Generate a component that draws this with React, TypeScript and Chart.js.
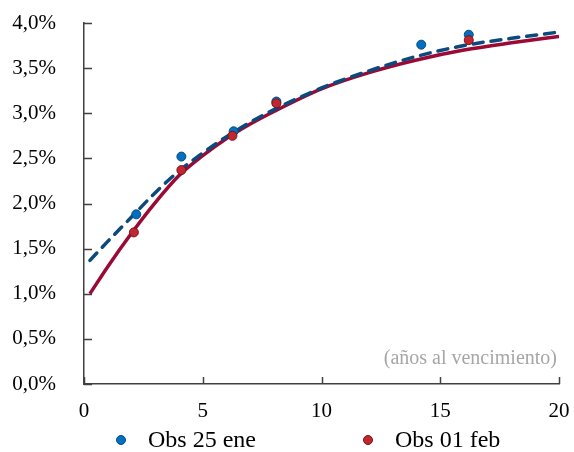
import React, { useEffect, useRef } from "react";
import { Chart, registerables } from "chart.js";

Chart.register(...registerables);

// Fitted curves (maturity in years, yield in %)
const curveX = [0.25, 1, 2, 3, 4, 5, 6, 7, 8, 10, 12, 14, 16, 18, 20];
const curve25ene = [1.37, 1.58, 1.85, 2.12, 2.36, 2.56, 2.74, 2.9, 3.04, 3.28, 3.47, 3.63, 3.75, 3.83, 3.9];
const curve01feb = [1.0, 1.3, 1.67, 2.01, 2.31, 2.53, 2.72, 2.88, 3.02, 3.27, 3.45, 3.59, 3.7, 3.78, 3.85];

// Observations
const obsX25ene = [2.2, 4.1, 6.3, 8.1, 14.2, 16.2];
const obs25ene = [1.88, 2.52, 2.8, 3.13, 3.76, 3.87];
const obsX01feb = [2.1, 4.1, 6.25, 8.1, 16.2];
const obs01feb = [1.68, 2.37, 2.75, 3.11, 3.81];

// Axes
const xTickValues = [0, 5, 10, 15, 20];
const xTickLabels = ["0", "5", "10", "15", "20"];
const yTickValues = [0, 0.5, 1, 1.5, 2, 2.5, 3, 3.5, 4];
const yTickLabels = ["0,0%", "0,5%", "1,0%", "1,5%", "2,0%", "2,5%", "3,0%", "3,5%", "4,0%"];

const legendLabels = ["Obs 25 ene", "Obs 01 feb"];
const axisNote = "(años al vencimiento)";

const BLUE_LINE = "#0B4A7D";
const RED_LINE = "#9A0A35";
const BLUE_DOT = "#0070C0";
const RED_DOT = "#C0282D";
const AXIS = "#404040";
const FONT = "'Liberation Serif', 'Times New Roman', serif";

const toPts = (xs: number[], ys: number[]) => xs.map((x, i) => ({ x, y: ys[i] }));

export default function App() {
  const ref = useRef<HTMLCanvasElement | null>(null);

  useEffect(() => {
    if (!ref.current) return;

    const extras = {
      id: "extras",
      afterDraw(chart: any) {
        const { ctx, chartArea, scales } = chart;
        ctx.save();
        // inward tick marks
        ctx.strokeStyle = AXIS;
        ctx.lineWidth = 1.5;
        ctx.beginPath();
        yTickValues.forEach((v) => {
          const py = Math.round(scales.y.getPixelForValue(v)) + 0.5;
          ctx.moveTo(chartArea.left, py);
          ctx.lineTo(chartArea.left + 8, py);
        });
        xTickValues.forEach((v) => {
          const px = Math.round(scales.x.getPixelForValue(v)) + 0.5;
          ctx.moveTo(px, chartArea.bottom);
          ctx.lineTo(px, chartArea.bottom - 7);
        });
        ctx.stroke();

        // axis note
        ctx.fillStyle = "#A6A6A6";
        ctx.font = `20px ${FONT}`;
        ctx.textAlign = "right";
        ctx.textBaseline = "middle";
        ctx.fillText(axisNote, chartArea.right - 2, 359);

        // legend
        ctx.font = `24px ${FONT}`;
        ctx.textAlign = "left";
        const items = [
          { label: legendLabels[0], fill: BLUE_DOT, stroke: "#0B4A7D", cx: 121 },
          { label: legendLabels[1], fill: RED_DOT, stroke: "#7A1020", cx: 368 },
        ];
        items.forEach((it) => {
          ctx.beginPath();
          ctx.arc(it.cx, 440, 4.5, 0, Math.PI * 2);
          ctx.fillStyle = it.fill;
          ctx.fill();
          ctx.lineWidth = 1;
          ctx.strokeStyle = it.stroke;
          ctx.stroke();
          ctx.fillStyle = "#000";
          ctx.fillText(it.label, it.cx + 27, 441);
        });
        ctx.restore();
      },
    };

    const chart = new Chart(ref.current, {
      type: "scatter",
      data: {
        datasets: [
          {
            label: legendLabels[1],
            data: toPts(obsX01feb, obs01feb),
            backgroundColor: RED_DOT,
            borderColor: "#7A1020",
            borderWidth: 1,
            pointRadius: 4.5,
            showLine: false,
          },
          {
            label: legendLabels[0],
            data: toPts(obsX25ene, obs25ene),
            backgroundColor: BLUE_DOT,
            borderColor: "#0B4A7D",
            borderWidth: 1,
            pointRadius: 4.5,
            showLine: false,
          },
          {
            label: "Curva 25 ene",
            data: toPts(curveX, curve25ene),
            showLine: true,
            borderColor: BLUE_LINE,
            borderWidth: 3.5,
            borderDash: [10, 8],
            borderCapStyle: "round",
            pointRadius: 0,
            cubicInterpolationMode: "monotone",
          },
          {
            label: "Curva 01 feb",
            data: toPts(curveX, curve01feb),
            showLine: true,
            borderColor: RED_LINE,
            borderWidth: 3.5,
            pointRadius: 0,
            cubicInterpolationMode: "monotone",
          },
        ] as any,
      },
      options: {
        animation: false,
        responsive: false,
        devicePixelRatio: 1,
        layout: { padding: { top: 23, right: 15, left: 0, bottom: 0 } },
        plugins: { legend: { display: false }, tooltip: { enabled: false }, title: { display: false } },
        scales: {
          x: {
            type: "linear",
            min: 0,
            max: 20,
            grid: { display: false, drawTicks: false },
            border: { display: true, color: AXIS, width: 1.5 },
            afterFit: (s: any) => {
              s.height = 68;
              s.paddingLeft = 0;
              s.paddingRight = 0;
            },
            afterBuildTicks: (s: any) => { s.ticks = xTickValues.map((v) => ({ value: v })); },
            ticks: {
              padding: 15,
              color: "#000",
              font: { family: FONT, size: 21 },
              maxRotation: 0,
              callback: (v: any) => xTickLabels[xTickValues.indexOf(Number(v))] ?? "",
            },
          },
          y: {
            type: "linear",
            min: 0,
            max: 4,
            grid: { display: false, drawTicks: false },
            border: { display: true, color: AXIS, width: 1.5 },
            afterFit: (s: any) => {
              s.width = 84;
              s.paddingTop = 0;
              s.paddingBottom = 0;
            },
            afterBuildTicks: (s: any) => { s.ticks = yTickValues.map((v) => ({ value: v })); },
            ticks: {
              padding: 28,
              color: "#000",
              font: { family: FONT, size: 21 },
              callback: (v: any) => yTickLabels[yTickValues.indexOf(Number(v))] ?? "",
            },
          },
        },
      } as any,
      plugins: [extras],
    });
    return () => chart.destroy();
  }, []);

  return (
    <div style={{ position: "fixed", left: 0, top: 0, width: 574, height: 452, background: "#fff" }}>
      <canvas ref={ref} width={574} height={452} style={{ display: "block" }} />
    </div>
  );
}
